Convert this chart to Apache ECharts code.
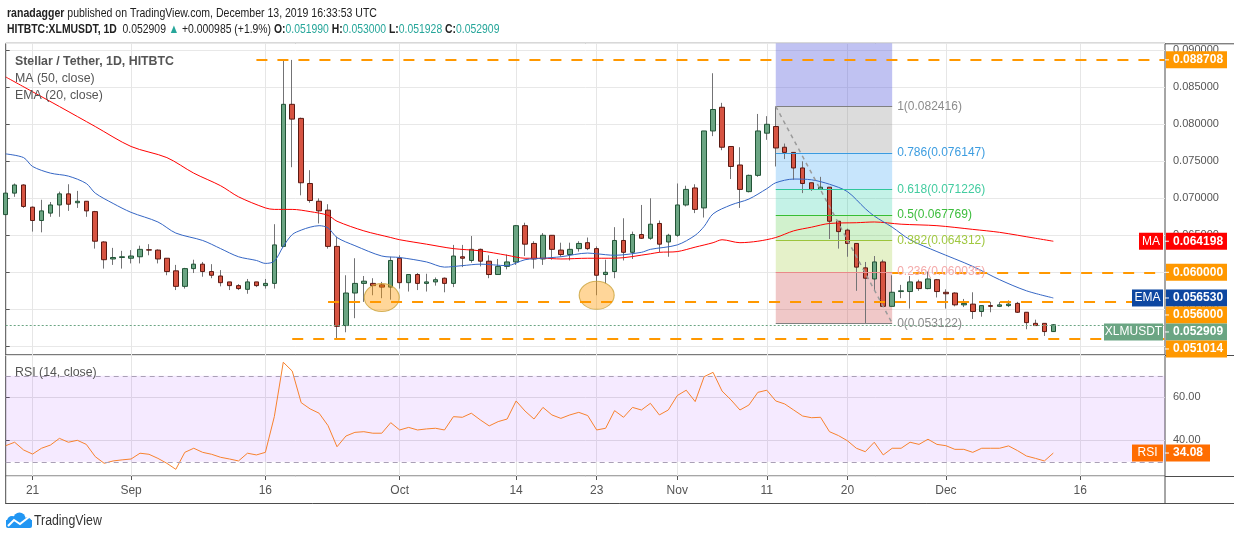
<!DOCTYPE html>
<html>
<head>
<meta charset="utf-8">
<script src="https://cdn.jsdelivr.net/npm/echarts@6/dist/echarts.min.js"></script>
<style>
html, body { margin: 0; padding: 0; background: #fff; }
#main { width: 1234px; height: 540px; }
</style>
</head>
<body>
<div id="main"></div>
<script>
// daily candles, index 0 = 2019-08-18 ... index 117 = 2019-12-13
var opens = [0.0678,0.0707,0.0718,0.0688,0.0670,0.0680,0.0691,0.0706,0.0694,0.0696,
  0.0682,0.0641,0.0618,0.0620,0.0619,0.0621,0.06305,0.0630,0.0619,0.0602,
  0.0581,0.0605,0.0611,0.0601,0.0595,0.0587,0.0582,0.0577,0.0587,0.0582,
  0.0585,0.0635,0.0827,0.0808,0.0720,0.0696,0.0684,0.0635,0.0528,0.0572,
  0.0585,0.0585,0.0583,0.0580,0.0619,0.0586,0.0597,0.0585,0.0587,0.0592,
  0.0585,0.0621,0.0616,0.0631,0.0615,0.0597,0.0608,0.0614,0.0663,0.0639,
  0.0618,0.0650,0.0630,0.0624,0.0632,0.0640,0.0632,0.0597,0.0601,0.0643,
  0.0627,0.0651,0.0646,0.0666,0.0641,0.0650,0.0691,0.0714,0.0687,0.0791,
  0.0823,0.0770,0.0745,0.0709,0.0731,0.0788,0.0797,0.0769,0.0762,0.0741,
  0.0721,0.0712,0.0715,0.0669,0.0657,0.0639,0.0606,0.0591,0.0614,0.0554,
  0.0574,0.0574,0.0587,0.0578,0.0590,0.0573,0.0572,0.0556,0.0557,0.0547,
  0.0555,0.0554,0.0555,0.0558,0.0546,0.0531,0.0531,0.051990];
var highs = [0.0712,0.0720,0.0719,0.0689,0.0698,0.0695,0.0709,0.0719,0.0710,0.0696,
  0.0683,0.0642,0.0633,0.0629,0.0630,0.0636,0.0638,0.0631,0.0619,0.0610,
  0.0606,0.0617,0.0614,0.0611,0.0603,0.0587,0.0584,0.0591,0.0587,0.0591,
  0.0665,0.0887,0.0887,0.0809,0.0738,0.0700,0.0692,0.0648,0.0596,0.0619,
  0.0595,0.0592,0.0587,0.0621,0.0623,0.0597,0.0599,0.0598,0.0593,0.0593,
  0.0637,0.0637,0.0649,0.0632,0.0623,0.0618,0.0624,0.0664,0.0667,0.0642,
  0.0653,0.0650,0.0640,0.0640,0.0642,0.0647,0.0635,0.0617,0.0661,0.0673,
  0.0655,0.0691,0.0700,0.0670,0.0652,0.0720,0.0717,0.0719,0.0791,0.0869,
  0.0829,0.0770,0.0769,0.0732,0.0814,0.0811,0.082416,0.0774,0.0762,0.0750,
  0.0721,0.0729,0.0715,0.0669,0.0659,0.0639,0.0614,0.0622,0.0617,0.0596,
  0.0583,0.0595,0.0590,0.0601,0.0591,0.0577,0.0573,0.0564,0.0573,0.0555,
  0.0560,0.0560,0.0562,0.0560,0.0546,0.0536,0.0531,0.053000];
var lows = [0.0672,0.0702,0.0687,0.0655,0.0654,0.0675,0.0675,0.0683,0.0687,0.0675,
  0.0632,0.0605,0.0610,0.0605,0.0612,0.0612,0.0623,0.0612,0.0596,0.0576,
  0.0578,0.0599,0.0594,0.0592,0.0581,0.0576,0.0576,0.0571,0.0580,0.0578,
  0.0578,0.0634,0.0742,0.0704,0.0694,0.0666,0.0632,0.0511,0.0519,0.0538,
  0.0560,0.0569,0.0565,0.0563,0.0578,0.0574,0.0576,0.0574,0.0582,0.0573,
  0.0580,0.0607,0.0613,0.0608,0.0592,0.0597,0.0604,0.0610,0.0622,0.0605,
  0.0610,0.0617,0.0621,0.0616,0.0628,0.0630,0.0569,0.0585,0.0592,0.0616,
  0.0618,0.0645,0.0644,0.0627,0.0621,0.0648,0.0689,0.0680,0.0674,0.0784,
  0.0765,0.0726,0.0687,0.0708,0.0729,0.0779,0.0743,0.0753,0.0725,0.0707,
  0.0710,0.0712,0.0645,0.0632,0.0621,0.0575,0.053122,0.0576,0.0554,0.0554,
  0.0565,0.0551,0.0575,0.0577,0.0566,0.0551,0.0554,0.0553,0.0537,0.0540,
  0.0546,0.0553,0.0553,0.0545,0.0523,0.0528,0.0514,0.051928];
var closes = [0.0707,0.0718,0.0689,0.0670,0.0683,0.0691,0.0706,0.0692,0.0696,0.0683,
  0.0642,0.0617,0.0620,0.0621,0.0622,0.0631,0.0630,0.0618,0.0601,0.0581,
  0.0605,0.0611,0.0601,0.0596,0.0586,0.0582,0.0578,0.0587,0.0582,0.0585,
  0.0637,0.0827,0.0807,0.0721,0.0697,0.0683,0.0635,0.0527,0.0572,0.0585,
  0.0588,0.0582,0.0580,0.0616,0.0586,0.0597,0.0585,0.0587,0.0590,0.0585,
  0.0622,0.0619,0.0631,0.0615,0.0597,0.0608,0.0614,0.0663,0.0638,0.0618,
  0.0650,0.0631,0.0624,0.0631,0.0639,0.0632,0.0596,0.0600,0.0643,0.0627,
  0.0651,0.0646,0.0665,0.0638,0.0650,0.0691,0.0712,0.0685,0.0791,0.0820,
  0.0769,0.0743,0.0712,0.0731,0.0791,0.0800,0.0768,0.0762,0.0741,0.0720,
  0.0712,0.0715,0.0669,0.0655,0.0639,0.0607,0.0592,0.0614,0.0554,0.0573,
  0.0575,0.0587,0.0578,0.0591,0.0574,0.0571,0.0556,0.0558,0.0547,0.0555,
  0.0554,0.0556,0.0557,0.0546,0.0532,0.0528,0.05199,0.052909];

var rsiValues = [37.5,39.1,35.5,33.6,36.3,37.8,40.9,39.1,40.0,38.1,
  32.4,29.3,30.4,30.9,31.3,34.0,33.5,31.6,29.3,26.5,
  34.4,36.3,34.4,33.5,32.1,31.3,30.4,34.0,33.2,34.4,
  51.0,76.3,72.2,57.5,54.6,52.6,46.8,37.0,42.0,43.7,
  44.0,43.3,43.3,48.2,44.8,46.0,44.8,45.3,45.6,44.8,
  51.0,50.7,52.6,49.5,46.7,48.7,49.9,58.3,53.6,49.9,
  55.3,51.8,50.2,51.8,53.0,51.5,44.8,45.6,53.8,50.7,
  55.3,54.1,57.2,51.8,54.1,60.8,63.3,58.0,69.6,71.6,
  62.9,58.8,54.1,56.4,62.3,63.3,58.3,56.9,54.1,51.3,
  50.5,50.7,44.0,42.2,39.8,36.3,34.7,39.1,33.2,36.3,
  36.3,39.1,38.1,40.5,38.1,37.5,35.8,35.8,34.4,36.3,
  36.3,36.3,37.4,35.2,32.7,31.6,30.4,34.08];

// MA(50) and EMA(20) at these day indices
var maIdx = [0,3,6,10,14,18,21,24,26,29,30,32,34,36,37,40,43,44,47,50,53,56,58,60,62,65,68,72,73,75,77,79,80,82,84,86,88,90,92,95,97,100,104,108,111,115,117];
var maVals = [0.0864,0.0844,0.0824,0.0797,0.0770,0.0755,0.0734,0.0717,0.0702,0.0687,0.0685,0.0685,0.0682,0.0677,0.0669,0.0656,0.0647,0.0644,0.0638,0.0632,0.0629,0.0623,0.0619,0.0619,0.0618,0.0619,0.0619,0.0625,0.0627,0.0628,0.0634,0.0640,0.0644,0.0640,0.0642,0.0647,0.0656,0.0661,0.0666,0.0667,0.0668,0.0665,0.0663,0.0658,0.0654,0.0646,0.064198];
var emaIdx = [0,2,3,5,7,9,10,12,14,17,19,22,24,26,28,29,30,31,32,33,34,35,36,37,39,42,44,47,49,51,53,56,58,60,62,65,66,68,71,72,75,77,78,79,81,83,85,86,88,90,92,94,96,97,99,101,104,108,111,114,117];
var emaVals = [0.0760,0.0755,0.0743,0.0734,0.0730,0.0720,0.0707,0.0693,0.0681,0.0668,0.0653,0.0643,0.0632,0.0621,0.0616,0.0612,0.0615,0.0635,0.0651,0.0657,0.0661,0.0663,0.0660,0.0647,0.0636,0.0622,0.0620,0.0614,0.0607,0.0609,0.0611,0.0609,0.0617,0.0619,0.0621,0.0626,0.0625,0.0623,0.0627,0.0631,0.0637,0.0650,0.0662,0.0679,0.0691,0.0699,0.0713,0.0721,0.0726,0.0725,0.0719,0.0709,0.0686,0.0676,0.0661,0.0644,0.0628,0.0608,0.0590,0.0575,0.056530];

// x axis ticks
var tickIdx = [3, 14, 29, 44, 57, 66, 75, 85, 94, 105, 120];
var tickText = ['21', 'Sep', '16', 'Oct', '14', '23', 'Nov', '11', '20', 'Dec', '16'];

// horizontal support / resistance lines
var levels = [0.088708, 0.060000, 0.056000, 0.051014];
var levelFrom = [28, 99, 36, 32];

// fibonacci retracement
var fibRatio = ['1', '0.786', '0.618', '0.5', '0.382', '0.236', '0'];
var fibPrice = [0.082416, 0.076147, 0.071226, 0.067769, 0.064312, 0.060035, 0.053122];
var fibFrom = 86, fibTo = 99;

// highlighted lows
var circleIdx = [42, 66];
var circleVal = [0.05659, 0.05689];

var lastPrice = 0.052909, maLast = 0.064198, emaLast = 0.056530, rsiLast = 34.08;

var xMax = 129.47;
var yMin = 0.048824, yMax = 0.090946;

var chart = echarts.init(document.getElementById('main'));
var FONT = '"Liberation Sans", Arial, sans-serif';

var wickData = opens.map(function (o, i) { return [i, o, closes[i], lows[i], highs[i]]; });
var bodyData = opens.map(function (o, i) {
    return [i, o, closes[i], Math.min(o, closes[i]), Math.max(o, closes[i])];
});

var fibLineColor = ['#808080', '#3a9be0', '#2fc79a', '#36be36', '#9cc43c', '#e98a8a', '#808080'];
var fibTextColor = ['#8c8c8c', '#3d9de0', '#43cca0', '#3cbd3c', '#a0c840', '#f4a9a9', '#8c8c8c'];
var fibFill = ['rgba(128,128,128,0.28)', 'rgba(33,150,243,0.25)', 'rgba(0,200,150,0.23)',
    'rgba(76,200,60,0.26)', 'rgba(150,200,40,0.25)', 'rgba(200,50,50,0.27)'];

var fibAreas = [[{ coord: [fibFrom, fibPrice[0]], itemStyle: { color: 'rgba(90,95,220,0.38)' } }, { coord: [fibTo, yMax] }]];
for (var k = 0; k < 6; k++) {
    fibAreas.push([{ coord: [fibFrom, fibPrice[k]], itemStyle: { color: fibFill[k] } }, { coord: [fibTo, fibPrice[k + 1]] }]);
}

var lines = [];
levels.forEach(function (v, k) {
    lines.push([{ coord: [levelFrom[k], v], lineStyle: { color: '#ff9800', width: 2, type: [11, 10] } }, { coord: [xMax, v] }]);
});
fibPrice.forEach(function (p, k) {
    lines.push([{
        coord: [fibFrom, p],
        lineStyle: { color: fibLineColor[k], width: 1, type: 'solid' },
        label: { show: true, position: 'end', distance: 5, formatter: fibRatio[k] + '(' + p.toFixed(6) + ')',
                 color: fibTextColor[k], fontSize: 12, fontFamily: FONT }
    }, { coord: [fibTo, p] }]);
});
// fib trend line
lines.push([{ coord: [fibFrom, fibPrice[0]], lineStyle: { color: '#9a9a9a', width: 1.5, type: [4, 4] } },
            { coord: [fibTo, fibPrice[6]] }]);
// last price
lines.push([{ coord: [0, lastPrice], lineStyle: { color: '#6ba583', width: 1, type: [2, 2] } }, { coord: [xMax, lastPrice] }]);

function tickLabel(v) {
    var n = tickIdx.indexOf(Math.round(v));
    return n < 0 ? '' : tickText[n];
}

var option = {
    animation: false,
    textStyle: { fontFamily: FONT },
    grid: [
        { left: 5.7, right: 69, top: 43.3, height: 311.7, show: true, borderColor: '#4d4d4d', borderWidth: 1 },
        { left: 5.7, right: 69, top: 355, height: 121, show: true, borderColor: '#4d4d4d', borderWidth: 1 }
    ],
    xAxis: [
        { type: 'value', gridIndex: 0, min: 0, max: xMax,
          axisLine: { show: false },
          axisTick: { show: false, customValues: tickIdx },
          axisLabel: { show: false, customValues: tickIdx },
          splitLine: { show: true, lineStyle: { color: '#e6e6e6' } } },
        { type: 'value', gridIndex: 1, min: 0, max: xMax,
          axisLine: { show: false },
          axisTick: { show: true, length: 4, customValues: tickIdx, lineStyle: { color: '#555' } },
          axisLabel: { show: true, customValues: tickIdx, formatter: tickLabel, color: '#555', fontSize: 12, margin: 9 },
          splitLine: { show: true, lineStyle: { color: '#e6e6e6' } } }
    ],
    yAxis: [
        { type: 'value', gridIndex: 0, position: 'right', min: yMin, max: yMax, splitNumber: 8,
          axisLine: { show: false },
          axisTick: { show: true, length: 4, lineStyle: { color: '#555' } },
          axisLabel: { formatter: function (v) { return v.toFixed(6); }, color: '#555', fontSize: 11, margin: 8,
                       showMinLabel: false, showMaxLabel: false },
          splitLine: { lineStyle: { color: '#e8e8e8' } } },
        { type: 'value', gridIndex: 1, position: 'right', min: 23.4, max: 79.67, splitNumber: 3,
          axisLine: { show: false },
          axisTick: { show: true, length: 4, lineStyle: { color: '#555' } },
          axisLabel: { formatter: function (v) { return v.toFixed(2); }, color: '#555', fontSize: 11, margin: 8,
                       showMinLabel: false, showMaxLabel: false },
          splitLine: { lineStyle: { color: '#e2e2e2' } } }
    ],
    series: [
        {
            name: 'wick', type: 'candlestick', xAxisIndex: 0, yAxisIndex: 0,
            data: wickData, barWidth: 1, silent: true,
            itemStyle: { color: '#737375', color0: '#737375', borderColor: '#737375', borderColor0: '#737375', borderWidth: 1 },
            markArea: { silent: true, data: fibAreas }
        },
        {
            name: 'XLMUSDT', type: 'candlestick', xAxisIndex: 0, yAxisIndex: 0,
            data: bodyData, barWidth: 5, silent: true,
            itemStyle: { color: '#6ba583', color0: '#d75442', borderColor: '#225437', borderColor0: '#5b1a13', borderWidth: 1 },
            markLine: { silent: true, symbol: ['none', 'none'], label: { show: false }, data: lines }
        },
        {
            name: 'MA', type: 'line', xAxisIndex: 0, yAxisIndex: 0, silent: true,
            data: maIdx.map(function (x, k) { return [x, maVals[k]]; }),
            showSymbol: false, smooth: 0.3, lineStyle: { color: '#ff0000', width: 1 }
        },
        {
            name: 'EMA', type: 'line', xAxisIndex: 0, yAxisIndex: 0, silent: true,
            data: emaIdx.map(function (x, k) { return [x, emaVals[k]]; }),
            showSymbol: false, smooth: 0.3, lineStyle: { color: '#3566c4', width: 1 }
        },
        {
            name: 'lows', type: 'scatter', xAxisIndex: 0, yAxisIndex: 0, silent: true,
            data: circleIdx.map(function (x, k) { return [x, circleVal[k]]; }),
            symbol: 'circle', symbolSize: [35, 28],
            itemStyle: { color: 'rgba(255,152,0,0.5)', borderColor: '#c9a23a', borderWidth: 1 }
        },
        {
            name: 'RSI', type: 'line', xAxisIndex: 1, yAxisIndex: 1, silent: true,
            data: rsiValues.map(function (v, i) { return [i, v]; }),
            showSymbol: false, lineStyle: { color: '#f7822e', width: 1 },
            markArea: { silent: true, itemStyle: { color: 'rgba(153,51,255,0.1)' }, data: [[{ yAxis: 70 }, { yAxis: 30 }]] },
            markLine: { silent: true, symbol: ['none', 'none'], label: { show: false },
                        lineStyle: { color: '#aaa0b6', type: [5, 4], width: 1 },
                        data: [{ yAxis: 70 }, { yAxis: 30 }] }
        }
    ]
};
chart.setOption(option);

// ---- texts, frame and price tags ----
var g = [];
function txt(x, y, text, extra, sx) {
    var s = { text: text, x: 0, y: 0, fill: '#555', fontSize: 13, fontFamily: FONT,
              verticalAlign: 'middle', textVerticalAlign: 'middle', align: 'left', textAlign: 'left' };
    for (var key in extra) s[key] = extra[key];
    return { type: 'text', z: 70, x: x, y: y, scaleX: sx || 1, style: s };
}
var bold = { fontWeight: 'bold', fontSize: 13, fill: '#222', fontFamily: FONT };
var norm = { fontSize: 13, fill: '#222', fontFamily: FONT };
var teal = { fontSize: 13, fill: '#26a69a', fontFamily: FONT };
g.push(txt(7, 13, '{b|ranadagger}{n| published on TradingView.com, December 13, 2019 16:33:53 UTC}',
    { rich: { b: bold, n: norm } }, 0.81));
g.push(txt(7, 29, '{b|HITBTC:XLMUSDT, 1D}{n|  0.052909 }{g|\u25B2}{n| +0.000985 (+1.9%) }{b|O:}{g|0.051990}{b| H:}{g|0.053000}{b| L:}{g|0.051928}{b| C:}{g|0.052909}',
    { rich: { b: bold, n: norm, g: teal } }, 0.8));
g.push(txt(15, 61, 'Stellar / Tether, 1D, HITBTC', { fontWeight: 'bold' }, 0.95));
g.push(txt(15, 78, 'MA (50, close)', {}, 0.95));
g.push(txt(15, 95, 'EMA (20, close)', {}, 0.95));
g.push(txt(15, 372, 'RSI (14, close)', {}, 0.95));

var xr = chart.convertToPixel({ xAxisIndex: 0 }, xMax);
var xl = chart.convertToPixel({ xAxisIndex: 0 }, 0);
function seg(x1, y1, x2, y2) {
    return { type: 'line', z: 50, shape: { x1: x1, y1: y1, x2: x2, y2: y2 }, style: { stroke: '#4d4d4d', lineWidth: 1 } };
}
g.push(seg(xr, 43.8, 1234, 43.8));
g.push(seg(xr, 355.5, 1234, 355.5));
g.push(seg(xr, 476.5, 1234, 476.5));
g.push(seg(xl, 503.5, 1234, 503.5));
g.push(seg(xl, 476, xl, 504));
g.push(seg(xr, 476, xr, 504));

// tags on the price scale, pushed down when they would overlap
var tags = [
    { v: levels[0], bg: '#ff9800' },
    { v: maLast, bg: '#ff0000', name: 'MA' },
    { v: levels[1], bg: '#ff9800' },
    { v: emaLast, bg: '#0d47a1', name: 'EMA' },
    { v: levels[2], bg: '#ff9800' },
    { v: lastPrice, bg: '#6ba583', name: 'XLMUSDT' },
    { v: levels[3], bg: '#ff9800' }
];
tags.forEach(function (t) { t.y = chart.convertToPixel({ yAxisIndex: 0 }, t.v); });
tags.sort(function (a, b) { return a.y - b.y; });
var prev = -100;
tags.forEach(function (t) {
    if (t.y < prev + 17) t.y = prev + 17;
    prev = t.y;
});
function addTag(y, text, bg, name, w) {
    g.push({ type: 'rect', z: 60, shape: { x: xr + 1, y: y - 8.5, width: w, height: 17 }, style: { fill: bg } });
    g.push({ type: 'line', z: 61, shape: { x1: xr, y1: y, x2: xr + 4, y2: y }, style: { stroke: '#fff', lineWidth: 1 } });
    g.push(txt(xr + 8, y, text, { fill: '#fff', fontSize: 12, fontWeight: 'bold' }));
    if (name) {
        var nw = name.length * 7 + 10;
        g.push({ type: 'rect', z: 60, shape: { x: xr - 2 - nw, y: y - 8.5, width: nw, height: 17 }, style: { fill: bg } });
        g.push(txt(xr - 2 - nw / 2, y, name, { fill: '#fff', fontSize: 12, align: 'center', textAlign: 'center' }));
    }
}
tags.forEach(function (t) { addTag(t.y, t.v.toFixed(6), t.bg, t.name, 61); });
addTag(chart.convertToPixel({ yAxisIndex: 1 }, rsiLast), rsiLast.toFixed(2), '#ff6d00', 'RSI', 44);

// TradingView logo
g.push({ type: 'rect', z: 70, shape: { x: 6, y: 520, width: 26, height: 8, r: [0, 0, 2, 2] }, style: { fill: '#2196f3' } });
g.push({ type: 'circle', z: 70, shape: { cx: 12, cy: 521, r: 5 }, style: { fill: '#2196f3' } });
g.push({ type: 'circle', z: 70, shape: { cx: 19.5, cy: 518.5, r: 6 }, style: { fill: '#2196f3' } });
g.push({ type: 'circle', z: 70, shape: { cx: 27, cy: 522.5, r: 5 }, style: { fill: '#2196f3' } });
g.push({ type: 'polyline', z: 71, shape: { points: [[8, 526], [14, 520], [20, 524], [29, 517]] },
    style: { stroke: '#fff', lineWidth: 2, fill: null } });
g.push(txt(34, 521, 'TradingView', { fill: '#333', fontSize: 14 }, 0.88));

chart.setOption({ graphic: g });
</script>
</body>
</html>
